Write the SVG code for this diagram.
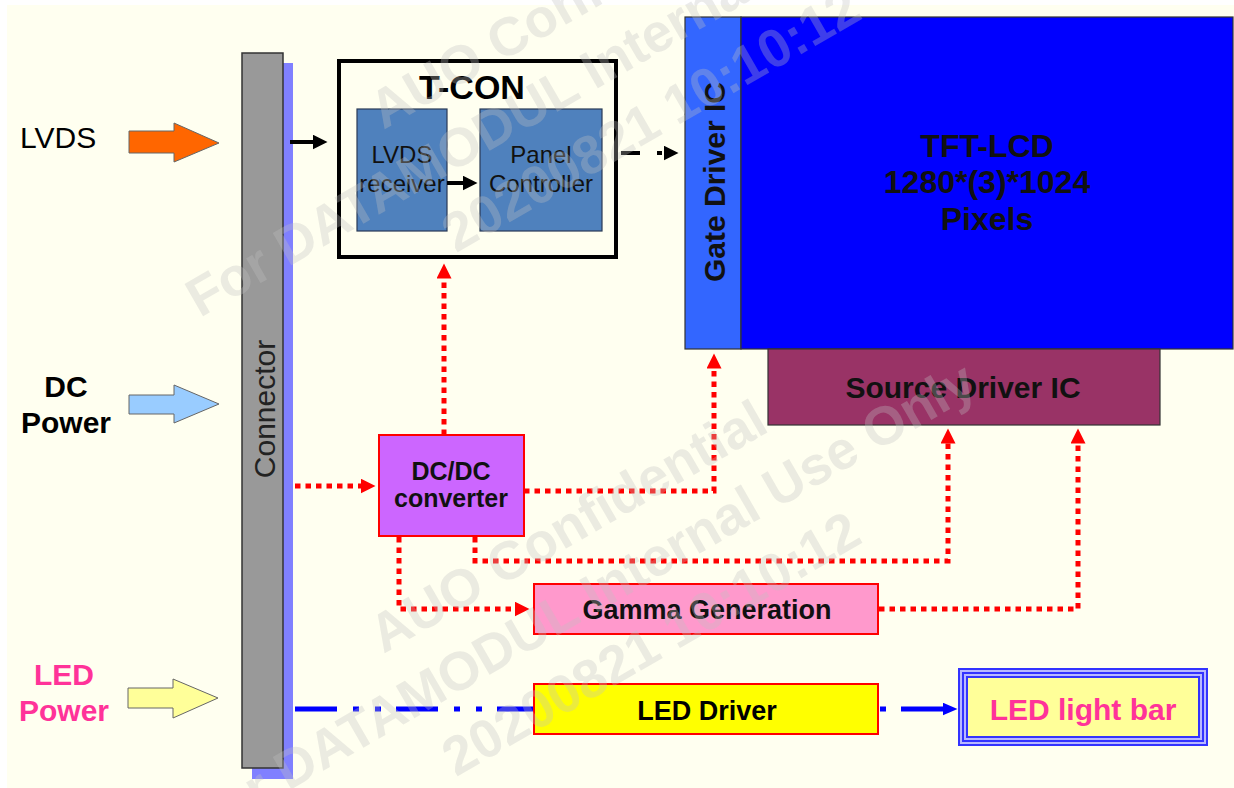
<svg xmlns="http://www.w3.org/2000/svg" width="1234" height="788" viewBox="0 0 1234 788">
<style>
text{font-family:"Liberation Sans",Arial,sans-serif}
.b{font-weight:bold}
.red{fill:none;stroke:#FF0000;stroke-width:5;stroke-dasharray:5.5 5}
.blk{fill:none;stroke:#000;stroke-width:4}
.blue{fill:none;stroke:#0000FF;stroke-width:5}
.wm{font-family:"Liberation Sans",Arial,sans-serif;font-weight:bold;font-size:54px;fill:#C0C0C0;fill-opacity:0.32}
</style>
<defs>
<marker id="ra" markerUnits="userSpaceOnUse" markerWidth="16" markerHeight="16" refX="0.5" refY="7.5" orient="auto"><path d="M0,0 L15,7.5 L0,15 z" fill="#FF0000"/></marker>
<marker id="ka" markerUnits="userSpaceOnUse" markerWidth="16" markerHeight="16" refX="0.5" refY="7.5" orient="auto"><path d="M0,0 L15,7.5 L0,15 z" fill="#000"/></marker>
<marker id="ba" markerUnits="userSpaceOnUse" markerWidth="16" markerHeight="16" refX="0.5" refY="6.5" orient="auto"><path d="M0,0 L15,6.5 L0,13 z" fill="#0000FF"/></marker>
</defs>
<rect x="0" y="0" width="1234" height="788" fill="#FFFFFF"/>
<rect x="7" y="5" width="1227" height="783" fill="#FFFFF0"/>

<g id="inputs">
<text x="20" y="148" font-size="30">LVDS</text>
<polygon points="129,131 174,131 174,123 219,143 174,162 174,153 129,153" fill="#FF6600" stroke="#666" stroke-width="1"/>
<text class="b" x="66" y="397" font-size="30" text-anchor="middle">DC</text>
<text class="b" x="66" y="433" font-size="30" text-anchor="middle">Power</text>
<polygon points="129,395 174,395 174,385 219,404 174,423 174,414 129,414" fill="#99CCFF" stroke="#666" stroke-width="1"/>
<text class="b" x="64" y="685" font-size="30" text-anchor="middle" fill="#FF3399">LED</text>
<text class="b" x="64" y="721" font-size="30" text-anchor="middle" fill="#FF3399">Power</text>
<polygon points="128,688 173,688 173,679 218,698 173,718 173,708 128,708" fill="#FFFF99" stroke="#666" stroke-width="1"/>
</g>

<g id="connector">
<rect x="252" y="63" width="41" height="716" fill="#8080FF"/>
<rect x="242" y="53" width="41" height="715" fill="#999999" stroke="#333" stroke-width="1.5"/>
<text transform="translate(275,409) rotate(-90)" font-size="30" text-anchor="middle" fill="#222">Connector</text>
</g>

<g id="tcon">
<rect x="339" y="61" width="277" height="196" fill="#FFFFF0" stroke="#000" stroke-width="4"/>
<text class="b" x="472" y="99" font-size="34" text-anchor="middle">T-CON</text>
</g>
<g id="lvds-receiver">
<rect x="357" y="109" width="90" height="122" fill="#4F81BD" stroke="#2a3a55" stroke-width="1.2"/>
<text x="402" y="163" font-size="24" text-anchor="middle" fill="#111">LVDS</text>
<text x="402" y="192" font-size="24" text-anchor="middle" fill="#111">receiver</text>
</g>
<g id="panel-controller">
<rect x="480" y="109" width="122" height="122" fill="#4F81BD" stroke="#2a3a55" stroke-width="1.2"/>
<text x="541" y="163" font-size="24" text-anchor="middle" fill="#111">Panel</text>
<text x="541" y="192" font-size="24" text-anchor="middle" fill="#111">Controller</text>
</g>

<g id="gate-driver">
<rect x="685" y="17" width="56" height="332" fill="#3366FF" stroke="#333" stroke-width="1.2"/>
<text class="b" transform="translate(725,182) rotate(-90)" font-size="30" text-anchor="middle" fill="#111">Gate Driver IC</text>
</g>
<g id="tft-lcd">
<rect x="741" y="17" width="492" height="332" fill="#0000FF" stroke="#333" stroke-width="1.2"/>
<text class="b" x="987" y="157" font-size="32" text-anchor="middle" fill="#111">TFT-LCD</text>
<text class="b" x="987" y="193" font-size="32" text-anchor="middle" fill="#111">1280*(3)*1024</text>
<text class="b" x="987" y="230" font-size="32" text-anchor="middle" fill="#111">Pixels</text>
</g>
<g id="source-driver">
<rect x="768" y="349" width="392" height="76" fill="#993366" stroke="#333" stroke-width="1.2"/>
<text class="b" x="963" y="398" font-size="30" text-anchor="middle" fill="#111">Source Driver IC</text>
</g>

<g id="dcdc">
<rect x="379" y="435" width="145" height="101" fill="#CC66FF" stroke="#FF0000" stroke-width="2"/>
<text class="b" x="451" y="480" font-size="25" text-anchor="middle" fill="#111">DC/DC</text>
<text class="b" x="451" y="507" font-size="25" text-anchor="middle" fill="#111">converter</text>
</g>

<g id="connectors">
<line class="blk" x1="290" y1="142" x2="313" y2="142" marker-end="url(#ka)"/>
<line class="blk" x1="447" y1="183" x2="463" y2="183" marker-end="url(#ka)"/>
<line class="blk" x1="621" y1="153" x2="664" y2="153" stroke-dasharray="19 17 5 100" marker-end="url(#ka)"/>
<path class="red" d="M295,486 H361" marker-end="url(#ra)"/>
<path class="red" d="M444,435 V278" marker-end="url(#ra)"/>
<path class="red" d="M524,491 H714 V368" marker-end="url(#ra)"/>
<path class="red" d="M475,537 V561 H948 V443" marker-end="url(#ra)"/>
<path class="red" d="M399,537 V609 H515" marker-end="url(#ra)"/>
<path class="red" d="M879,609 H1078 V443" marker-end="url(#ra)"/>
<line class="blue" x1="295" y1="709" x2="943" y2="709" stroke-dasharray="42 16 6 16 6 15" marker-end="url(#ba)"/>
</g>

<g id="gamma">
<rect x="534" y="584" width="344" height="50" fill="#FF99CC" stroke="#FF0000" stroke-width="2"/>
<text class="b" x="707" y="619" font-size="27" text-anchor="middle" fill="#111">Gamma Generation</text>
</g>
<g id="led-driver">
<rect x="534" y="684" width="344" height="50" fill="#FFFF00" stroke="#FF0000" stroke-width="2"/>
<text class="b" x="707" y="720" font-size="27" text-anchor="middle" fill="#000">LED Driver</text>
</g>
<g id="led-light-bar">
<rect x="959" y="669" width="248" height="76" fill="#B8B8FF" stroke="#3333FF" stroke-width="2"/>
<rect x="963" y="673" width="240" height="68" fill="none" stroke="#3333FF" stroke-width="2"/>
<rect x="967" y="677" width="232" height="60" fill="#FFFF99" stroke="#3333FF" stroke-width="2"/>
<text class="b" x="1083" y="720" font-size="30" text-anchor="middle" fill="#FF3399">LED light bar</text>
</g>

<g id="watermark">
<g transform="translate(200,318) rotate(-30)">
<text class="wm" x="253" y="-71">AUO Confidential</text>
<text class="wm" x="0" y="0">For DATAMODUL Internal Use Only</text>
<text class="wm" x="254" y="72">20200821 10:10:12</text>
</g>
<g transform="translate(200,842) rotate(-30)">
<text class="wm" x="253" y="-71">AUO Confidential</text>
<text class="wm" x="0" y="0">For DATAMODUL Internal Use Only</text>
<text class="wm" x="254" y="72">20200821 10:10:12</text>
</g>
</g>
</svg>
